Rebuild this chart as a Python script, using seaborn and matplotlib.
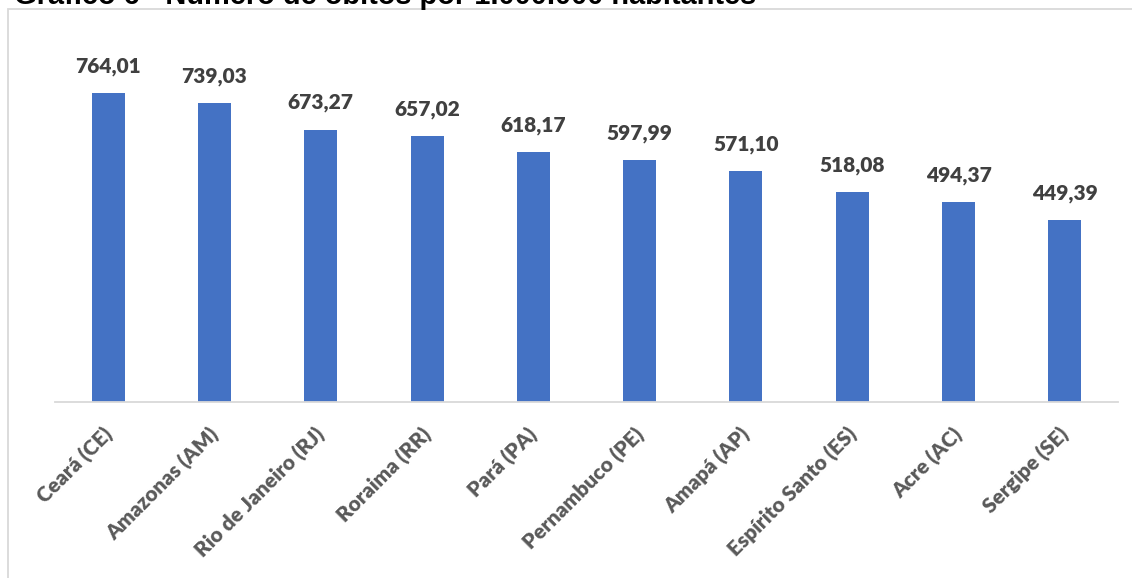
import matplotlib
matplotlib.use("Agg")
import matplotlib.pyplot as plt
import matplotlib.patches as mpatches
from matplotlib.transforms import ScaledTranslation
import seaborn as sns
import pandas as pd

categories = ["Ceará (CE)", "Amazonas (AM)", "Rio de Janeiro (RJ)", "Roraima (RR)",
              "Pará (PA)", "Pernambuco (PE)", "Amapá (AP)", "Espírito Santo (ES)",
              "Acre (AC)", "Sergipe (SE)"]
values = [764.01, 739.03, 673.27, 657.02, 618.17, 597.99, 571.10, 518.08, 494.37, 449.39]
value_labels = ["764,01", "739,03", "673,27", "657,02", "618,17", "597,99",
                "571,10", "518,08", "494,37", "449,39"]
title = "Gráfico 6 - Número de óbitos por 1.000.000 habitantes"

sns.set_theme(style="white")
plt.rcParams['font.family'] = ['Lato', 'DejaVu Sans']

df = pd.DataFrame({"estado": categories, "valor": values})

W, H = 1132, 578
fig = plt.figure(figsize=(W / 100, H / 100), dpi=100)
fig.patch.set_facecolor("white")

ax = fig.add_axes([55 / W, 1 - 402 / H, (1118 - 55) / W, (402 - 38) / H])
sns.barplot(data=df, x="estado", y="valor", color="#4472C4", width=0.31,
            saturation=1, ax=ax, edgecolor="none")
ax.set_ylim(0, 900)
ax.set_xlim(-0.5, len(categories) - 0.5)
ax.set_xlabel("")
ax.set_ylabel("")
ax.set_yticks([])
for s in ["top", "left", "right"]:
    ax.spines[s].set_visible(False)
ax.spines["bottom"].set_color("#d9d9d9")
ax.spines["bottom"].set_linewidth(1.3)
ax.tick_params(axis="x", length=0, pad=16)
ax.set_xticks(range(len(categories)))
ax.set_xticklabels(categories, rotation=45, ha="right", rotation_mode="anchor",
                   fontsize=15, fontweight="heavy", color="#595959")
shift = ScaledTranslation(-6 / 100, 0, fig.dpi_scale_trans)
for lab in ax.get_xticklabels():
    lab.set_transform(lab.get_transform() + shift)

for i, (v, lab) in enumerate(zip(values, value_labels)):
    ax.annotate(lab, (i, v), xytext=(0, 12.5), textcoords="offset points",
                ha="center", va="bottom", fontsize=15, fontweight="heavy",
                color="#404040")

# outer chart border
rect = mpatches.Rectangle((8 / W, -0.1), 1.2, 1 - 9 / H + 0.1, transform=fig.transFigure,
                          fill=False, edgecolor="#d9d9d9", linewidth=1.3, zorder=0)
fig.patches.append(rect)

fig.text(14 / W, 1 - 4 / H, title, ha="left", va="baseline", fontsize=20.9,
         fontweight="bold", color="black", family=["Liberation Sans", "DejaVu Sans"])

fig.savefig("out.png", dpi=100, facecolor="white")
